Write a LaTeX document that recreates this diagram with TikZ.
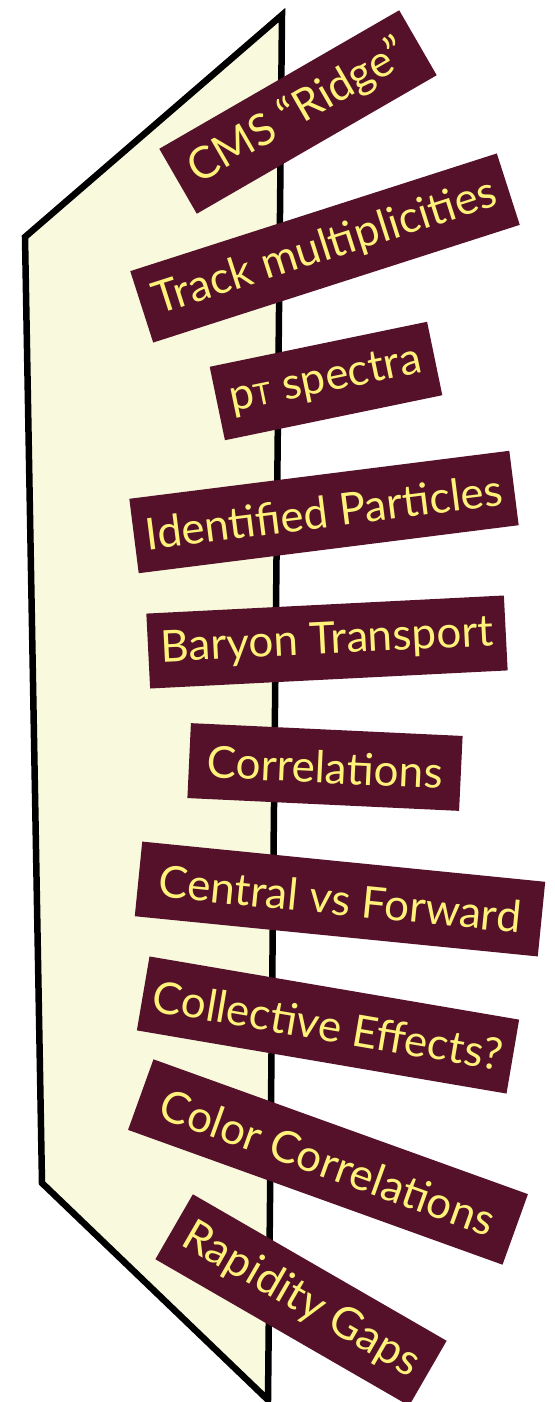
\documentclass[tikz,border=0pt]{standalone}
\usepackage{fontspec}
\setmainfont{Lato}
\definecolor{boxred}{HTML}{55112A}
\definecolor{txtyel}{HTML}{FFF27A}
\definecolor{paleyel}{HTML}{F8F9DD}
\begin{document}
\begin{tikzpicture}[x=1pt,y=-1pt,
  tag/.style={fill=boxred,text=txtyel,inner sep=0pt,minimum height=75pt,
    font=\fontsize{44}{48}\selectfont,anchor=center},
  panel/.style={draw=black,line width=6.5pt,fill=paleyel,line join=miter}]
\useasboundingbox (0,0) rectangle (554,1402);
\fill[white] (0,0) rectangle (554,1402);
\draw[panel] (282,15) -- (25,237) -- (42,1183) -- (268,1400) -- cycle;
\node[tag,minimum width=277pt,rotate=30] (ridge) at (298,112) {CMS “Ridge”};
\node[tag,minimum width=385pt,rotate=17.8] (track) at (325,248) {Track multiplicities};
\node[tag,minimum width=222pt,rotate=11.7] (pt) at (326,381) {p{\fontsize{30}{32}\selectfont T} spectra};
\node[tag,minimum width=383pt,rotate=7.2] (ident) at (324,512) {Identified Particles};
\node[tag,minimum width=358pt,rotate=2.9] (baryon) at (327,642) {Baryon Transport};
\node[tag,minimum width=272pt,rotate=-2.7] (corr) at (325,767) {Correlations};
\node[tag,minimum width=405pt,rotate=-5.7] (central) at (340,899) {Central vs Forward};
\node[tag,minimum width=375pt,rotate=-9.7] (coll) at (328,1025) {Collective Effects?};
\node[tag,minimum width=398pt,rotate=-19.8] (color) at (328,1162) {Color Correlations};
\node[tag,minimum width=293pt,rotate=-30] (gaps) at (301,1300) {Rapidity Gaps};
\end{tikzpicture}
\end{document}
